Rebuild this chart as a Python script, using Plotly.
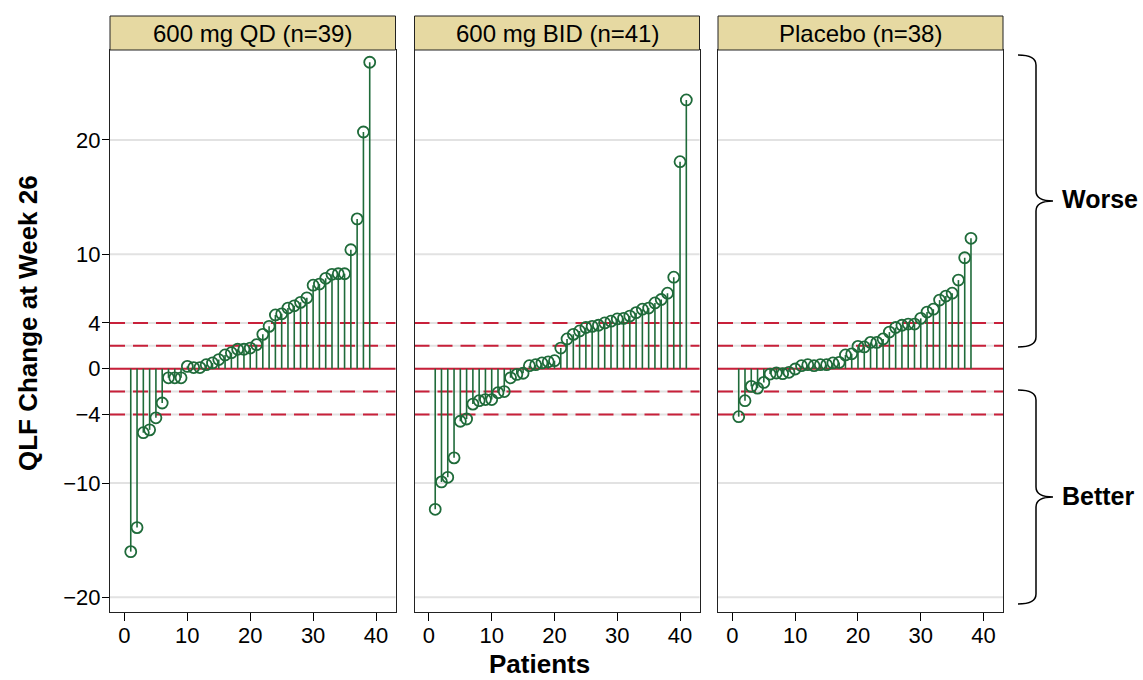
import plotly.graph_objects as go

# ---------------- data ----------------
panel_titles = ["600 mg QD (n=39)", "600 mg BID (n=41)", "Placebo (n=38)"]

qd_change = [-16.0, -13.9, -5.6, -5.35, -4.3, -3.0, -0.8, -0.8, -0.8, 0.2,
             0.1, 0.1, 0.35, 0.5, 0.8, 1.2, 1.4, 1.7, 1.7, 1.8,
             2.1, 3.0, 3.7, 4.7, 4.8, 5.3, 5.5, 5.8, 6.2, 7.3,
             7.4, 7.9, 8.25, 8.3, 8.3, 10.4, 13.1, 20.7, 26.8]

bid_change = [-12.3, -9.9, -9.5, -7.8, -4.6, -4.4, -3.1, -2.8, -2.7, -2.7,
              -2.1, -2.0, -0.8, -0.5, -0.4, 0.26, 0.35, 0.5, 0.6, 0.7,
              1.8, 2.6, 3.0, 3.3, 3.6, 3.7, 3.8, 4.0, 4.15, 4.35,
              4.4, 4.6, 4.9, 5.2, 5.3, 5.75, 6.05, 6.6, 8.0, 18.1, 23.5]

placebo_change = [-4.2, -2.8, -1.55, -1.7, -1.2, -0.47, -0.38, -0.44, -0.32, -0.03,
                  0.26, 0.35, 0.26, 0.35, 0.35, 0.5, 0.55, 1.2, 1.3, 1.95,
                  1.9, 2.3, 2.3, 2.6, 3.2, 3.6, 3.8, 3.9, 3.9, 4.4,
                  4.95, 5.2, 6.0, 6.35, 6.6, 7.75, 9.7, 11.4]

series = [qd_change, bid_change, placebo_change]

x_ticks = [0, 10, 20, 30, 40]
y_ticks = [20, 10, 4, 0, -4, -10, -20]
y_ticktext = ["20", "10", "4", "0", "\u22124", "\u221210", "\u221220"]
grid_levels = [20, 10, 4, 2, 0, -2, -4, -10, -20]
dashed_refs = [4, 2, -2, -4]
side_labels = ["Worse", "Better"]

# ---------------- style ----------------
GREEN = "#1f6b3a"
RED = "#c8203a"
GRID = "#e2e2e2"
STRIP = "#e6d9a2"
FONT = "Arial, Liberation Sans, sans-serif"

W, H = 1143, 680
ML, MR, MT, MB = 110, 140, 50, 68
PW = W - ML - MR
PH = H - MT - MB

def px_x(p):
    return (p - ML) / PW

def px_y(p):
    return (H - MB - p) / PH

domains = [[px_x(110), px_x(395.5)], [px_x(414.5), px_x(699.5)], [px_x(718), 1.0]]

fig = go.Figure()
shapes = []
annotations = []

for k, (vals, title) in enumerate(zip(series, panel_titles), start=1):
    xs = list(range(1, len(vals) + 1))
    sx, sy = [], []
    for xi, v in zip(xs, vals):
        sx += [xi, xi, None]
        sy += [0, v, None]
    xa = "x" if k == 1 else f"x{k}"
    ya = "y" if k == 1 else f"y{k}"
    fig.add_trace(go.Scatter(x=sx, y=sy, mode="lines",
                             line=dict(color=GREEN, width=1.6),
                             xaxis=xa, yaxis=ya, showlegend=False, hoverinfo="skip"))
    fig.add_trace(go.Scatter(x=xs, y=vals, mode="markers",
                             marker=dict(symbol="circle-open", size=11,
                                         color=GREEN, line=dict(width=1.8, color=GREEN)),
                             xaxis=xa, yaxis=ya, showlegend=False))

    xref_dom = f"{xa} domain"
    for v in grid_levels:
        shapes.append(dict(type="line", xref=xref_dom, yref=ya, x0=0, x1=1, y0=v, y1=v,
                           line=dict(color=GRID, width=2), layer="below"))
    for v in dashed_refs:
        shapes.append(dict(type="line", xref=xref_dom, yref=ya, x0=0, x1=1, y0=v, y1=v,
                           line=dict(color=RED, width=2, dash="15px,8px"), layer="below"))
    shapes.append(dict(type="line", xref=xref_dom, yref=ya, x0=0, x1=1, y0=0, y1=0,
                       line=dict(color=RED, width=2), layer="below"))
    # strip header
    shapes.append(dict(type="rect", xref=xref_dom, yref="paper", x0=0, x1=1,
                       y0=1.0, y1=px_y(16), fillcolor=STRIP,
                       line=dict(color="#222222", width=1)))
    annotations.append(dict(text=title, xref=xref_dom, yref="paper", x=0.5, y=px_y(33),
                            showarrow=False, xanchor="center", yanchor="middle",
                            font=dict(size=24, color="black", family=FONT)))

    axx = dict(domain=domains[k - 1], range=[-2.3, 43.1], tickvals=x_ticks,
               ticks="outside", ticklen=8, tickcolor="black", tickwidth=1,
               ticklabelstandoff=-4,
               tickfont=dict(size=22, color="black", family=FONT),
               showgrid=False, zeroline=False, showline=True, mirror=True,
               linecolor="#222222", linewidth=1, anchor=ya)
    axy = dict(range=[-21.28, 27.87], tickvals=y_ticks, ticktext=y_ticktext,
               showgrid=False, zeroline=False,
               showline=True, mirror=True, linecolor="#222222", linewidth=1,
               anchor=xa, domain=[0, 1])
    if k == 1:
        axy.update(ticks="outside", ticklen=7, tickcolor="black", tickwidth=1,
                   ticklabelstandoff=-3,
                   tickfont=dict(size=22, color="black", family=FONT), showticklabels=True)
    else:
        axy.update(ticks="", showticklabels=False, matches="y")
    key = "" if k == 1 else str(k)
    fig.update_layout(**{f"xaxis{key}": axx, f"yaxis{key}": axy})

# braces on the right
def brace(top, bottom, xl=1018, xv=1036, xt=1053):
    mid = (top + bottom) / 2
    r = 10
    pts = [
        ("M", [(xl, top)]),
        ("Q", [(xv, top), (xv, top + r)]),
        ("L", [(xv, mid - r)]),
        ("Q", [(xv, mid), (xt, mid)]),
        ("Q", [(xv, mid), (xv, mid + r)]),
        ("L", [(xv, bottom - r)]),
        ("Q", [(xv, bottom), (xl, bottom)]),
    ]
    path = ""
    for cmd, coords in pts:
        path += cmd + " " + " ".join(f"{px_x(a):.5f},{px_y(b):.5f}" for a, b in coords) + " "
    return dict(type="path", xref="paper", yref="paper", path=path.strip(),
                line=dict(color="black", width=1.5))

shapes.append(brace(55, 347))
shapes.append(brace(390, 604))
annotations.append(dict(text="<b>" + side_labels[0] + "</b>", xref="paper", yref="paper",
                        x=px_x(1060), y=px_y(199), xanchor="left", yanchor="middle",
                        showarrow=False, font=dict(size=25, color="black", family=FONT)))
annotations.append(dict(text="<b>" + side_labels[1] + "</b>", xref="paper", yref="paper",
                        x=px_x(1060), y=px_y(496), xanchor="left", yanchor="middle",
                        showarrow=False, font=dict(size=25, color="black", family=FONT)))

# axis titles
annotations.append(dict(text="<b>Patients</b>", xref="paper", yref="paper",
                        x=px_x(539), y=px_y(664), xanchor="center", yanchor="middle",
                        showarrow=False, font=dict(size=26, color="black", family=FONT)))
annotations.append(dict(text="<b>QLF Change at Week 26</b>", xref="paper", yref="paper",
                        x=px_x(28), y=px_y(323), xanchor="center", yanchor="middle",
                        textangle=-90, showarrow=False,
                        font=dict(size=26, color="black", family=FONT)))

fig.update_layout(width=W, height=H, margin=dict(l=ML, r=MR, t=MT, b=MB),
                  paper_bgcolor="white", plot_bgcolor="white",
                  shapes=shapes, annotations=annotations,
                  font=dict(family=FONT, color="black"), showlegend=False)

fig.write_html("out.html", config={"displayModeBar": False},
               post_script="document.body.style.margin='0';document.body.style.overflow='hidden';")
